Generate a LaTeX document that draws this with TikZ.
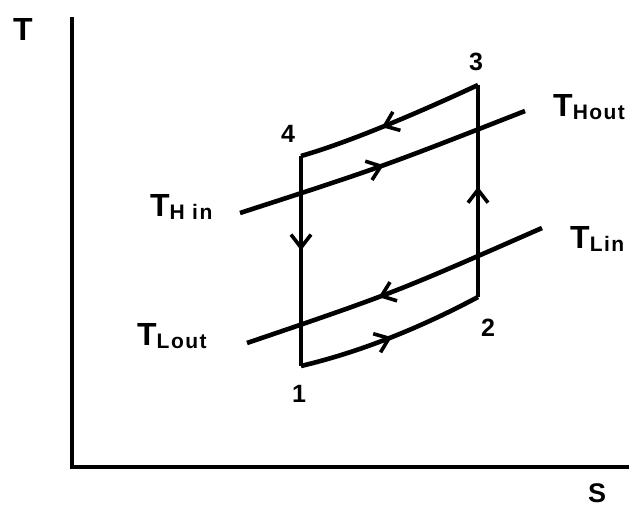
\documentclass[tikz,border=0pt]{standalone}
\usepackage{fontspec}
\newfontfamily\labfont{Liberation Sans}[BoldFont=* Bold]
\usetikzlibrary{arrows.meta,decorations.markings}
\tikzset{
  thick line/.style={line width=4.6pt, line join=miter},
  axisline/.style={line width=4.4pt},
  midarrow/.style={postaction={decorate},
    decoration={markings, mark=at position #1 with {\arrow{Straight Barb[length=13pt,width=20pt,line width=3.6pt]}}}},
  bigT/.style={font=\labfont\bfseries\fontsize{32}{32}\selectfont},
  numlab/.style={font=\labfont\bfseries\fontsize{25}{25}\selectfont, inner sep=0pt},
  streamlab/.style={anchor=base west, inner sep=0pt, font=\labfont\bfseries}
}
\newcommand{\tsub}[1]{{\fontsize{32}{32}\selectfont T}\raisebox{-3pt}{\fontsize{21}{21}\selectfont\addfontfeature{LetterSpace=7}#1}}
\begin{document}
\begin{tikzpicture}[x=1pt,y=-1pt]
\useasboundingbox (0,0) rectangle (629,508);
% axes
\coordinate (orig) at (72,467);
\coordinate (ytop) at (72,17);
\coordinate (xend) at (629,467);
\draw[axisline] (ytop) -- (orig) -- (xend);
\node[bigT, inner sep=0pt] (Tax) at (23,29) {T};
\node[font=\labfont\bfseries\fontsize{27}{27}\selectfont, inner sep=0pt] (Sax) at (597,493) {S};
% cycle corners
\coordinate (p1) at (301,366);
\coordinate (p2) at (478,297);
\coordinate (p3) at (478,85);
\coordinate (p4) at (301,156);
\draw[thick line, midarrow=0.55] (p3) .. controls (420,112) and (350,142) .. (p4);
\draw[thick line, midarrow=0.45] (p4) -- (p1);
\draw[thick line, midarrow=0.5] (p1) .. controls (360,352) and (420,328) .. (p2);
\draw[thick line, midarrow=0.52] (p2) -- (p3);
% stream lines
\coordinate (hin) at (240,213);
\coordinate (hout) at (525,111);
\coordinate (lin) at (542,228);
\coordinate (lout) at (247,343);
\draw[thick line, midarrow=0.5] (hin) .. controls (382,167) .. (hout);
\draw[thick line, midarrow=0.56] (lin) .. controls (394,293) .. (lout);
% labels
\node[numlab] (n1) at (299,394) {1};
\node[numlab] (n2) at (488,328) {2};
\node[numlab] (n3) at (476,62) {3};
\node[numlab] (n4) at (288,134) {4};
\node[streamlab] (lHout) at (553,117) {\tsub{Hout}};
\node[streamlab] (lLin) at (570,248) {\tsub{Lin}};
\node[streamlab] (lHin) at (150,216) {\tsub{H in}};
\node[streamlab] (lLout) at (137,345) {\tsub{Lout}};
\end{tikzpicture}
\end{document}
